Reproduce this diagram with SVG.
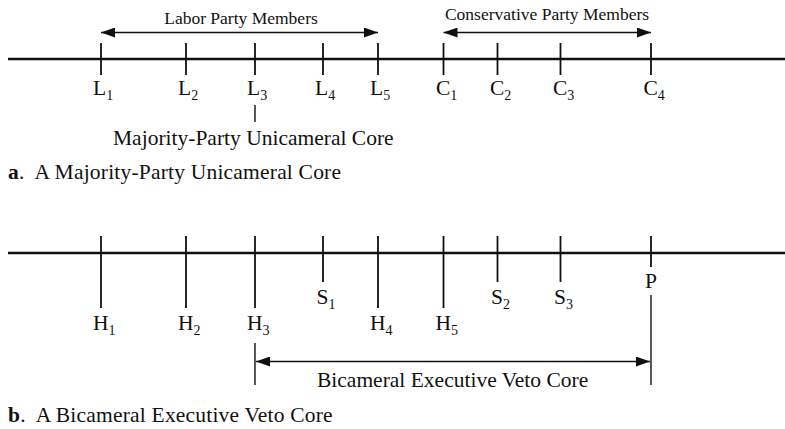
<svg xmlns="http://www.w3.org/2000/svg" width="785" height="429" viewBox="0 0 785 429">
  <style>
    text { font-family: "Liberation Serif", "Times New Roman", serif; fill: #111; }
    .lbl { font-size: 21.5px; }
    .cap { font-size: 21.5px; letter-spacing: 0.2px; }
    .sub { font-size: 14px; }
    .small { font-size: 17.5px; }
    .axis { stroke: #111; stroke-width: 2.6; fill: none; }
    .tick { stroke: #111; stroke-width: 1.8; fill: none; }
    .thin { stroke: #111; stroke-width: 1.4; fill: none; }
  </style>
  <defs>
    <marker id="head" viewBox="0 0 14 10" refX="14" refY="5" markerWidth="14" markerHeight="10" markerUnits="userSpaceOnUse" orient="auto-start-reverse">
      <path d="M0,0 L14,5 L0,10 Z" fill="#111"/>
    </marker>
  </defs>

  <rect width="785" height="429" fill="#fff"/>

  <!-- panel a: unicameral core -->
  <g id="axis-a">
    <line class="axis" x1="8" y1="59" x2="785" y2="59"/>
  </g>

  <g id="connectors">
    <!-- party spans -->
    <line class="thin" x1="101" y1="32.5" x2="378" y2="32.5" marker-start="url(#head)" marker-end="url(#head)"/>
    <line class="thin" x1="443.5" y1="32.5" x2="651" y2="32.5" marker-start="url(#head)" marker-end="url(#head)"/>
    <!-- pointer from L3 to the core label -->
    <line class="thin" x1="255" y1="105" x2="255" y2="122"/>
    <!-- bicameral executive veto core span -->
    <line class="thin" x1="255" y1="343" x2="255" y2="385"/>
    <line class="thin" x1="651" y1="295" x2="651" y2="385"/>
    <line class="thin" x1="256" y1="361.5" x2="650" y2="361.5" marker-start="url(#head)" marker-end="url(#head)"/>
  </g>

  <text class="small" x="241" y="23.5" text-anchor="middle">Labor Party Members</text>
  <text class="small" x="547" y="19.5" text-anchor="middle">Conservative Party Members</text>

  <g id="L1"><line class="tick" x1="101" y1="43" x2="101" y2="75"/><text class="lbl" x="93" y="95">L<tspan class="sub" dy="5">1</tspan></text></g>
  <g id="L2"><line class="tick" x1="186" y1="43" x2="186" y2="75"/><text class="lbl" x="178" y="95">L<tspan class="sub" dy="5">2</tspan></text></g>
  <g id="L3"><line class="tick" x1="255" y1="43" x2="255" y2="75"/><text class="lbl" x="247" y="95">L<tspan class="sub" dy="5">3</tspan></text></g>
  <g id="L4"><line class="tick" x1="323" y1="43" x2="323" y2="75"/><text class="lbl" x="315" y="95">L<tspan class="sub" dy="5">4</tspan></text></g>
  <g id="L5"><line class="tick" x1="378" y1="43" x2="378" y2="75"/><text class="lbl" x="370" y="95">L<tspan class="sub" dy="5">5</tspan></text></g>
  <g id="C1"><line class="tick" x1="443.5" y1="43" x2="443.5" y2="75"/><text class="lbl" x="436" y="95">C<tspan class="sub" dy="5">1</tspan></text></g>
  <g id="C2"><line class="tick" x1="497.5" y1="43" x2="497.5" y2="75"/><text class="lbl" x="490" y="95">C<tspan class="sub" dy="5">2</tspan></text></g>
  <g id="C3"><line class="tick" x1="560.5" y1="43" x2="560.5" y2="75"/><text class="lbl" x="553" y="95">C<tspan class="sub" dy="5">3</tspan></text></g>
  <g id="C4"><line class="tick" x1="651" y1="43" x2="651" y2="75"/><text class="lbl" x="643.5" y="95">C<tspan class="sub" dy="5">4</tspan></text></g>

  <g id="core-a"><text class="lbl" x="113" y="144.5">Majority-Party Unicameral Core</text></g>
  <text class="cap" x="8" y="178.5" xml:space="preserve"><tspan font-weight="bold">a</tspan>.  A Majority-Party Unicameral Core</text>

  <!-- panel b: bicameral executive veto core -->
  <g id="axis-b">
    <line class="axis" x1="8" y1="253" x2="785" y2="253"/>
  </g>

  <g id="H1"><line class="tick" x1="101" y1="236" x2="101" y2="308"/><text class="lbl" x="93" y="329.5">H<tspan class="sub" dy="5">1</tspan></text></g>
  <g id="H2"><line class="tick" x1="186" y1="236" x2="186" y2="308"/><text class="lbl" x="178" y="329.5">H<tspan class="sub" dy="5">2</tspan></text></g>
  <g id="H3"><line class="tick" x1="255" y1="236" x2="255" y2="308"/><text class="lbl" x="247" y="329.5">H<tspan class="sub" dy="5">3</tspan></text></g>
  <g id="S1"><line class="tick" x1="323" y1="236" x2="323" y2="282"/><text class="lbl" x="316.5" y="304">S<tspan class="sub" dy="5">1</tspan></text></g>
  <g id="H4"><line class="tick" x1="378" y1="236" x2="378" y2="308"/><text class="lbl" x="370" y="329.5">H<tspan class="sub" dy="5">4</tspan></text></g>
  <g id="H5"><line class="tick" x1="443.5" y1="236" x2="443.5" y2="308"/><text class="lbl" x="435.5" y="329.5">H<tspan class="sub" dy="5">5</tspan></text></g>
  <g id="S2"><line class="tick" x1="497.5" y1="236" x2="497.5" y2="282"/><text class="lbl" x="491" y="304">S<tspan class="sub" dy="5">2</tspan></text></g>
  <g id="S3"><line class="tick" x1="560.5" y1="236" x2="560.5" y2="282"/><text class="lbl" x="554" y="304">S<tspan class="sub" dy="5">3</tspan></text></g>
  <g id="P"><line class="tick" x1="651" y1="236" x2="651" y2="267"/><text class="lbl" x="651" y="288" text-anchor="middle">P</text></g>

  <g id="core-b"><text class="lbl" x="317" y="386.5">Bicameral Executive Veto Core</text></g>
  <text class="cap" x="8" y="421.5" xml:space="preserve"><tspan font-weight="bold">b</tspan>.  A Bicameral Executive Veto Core</text>
</svg>
